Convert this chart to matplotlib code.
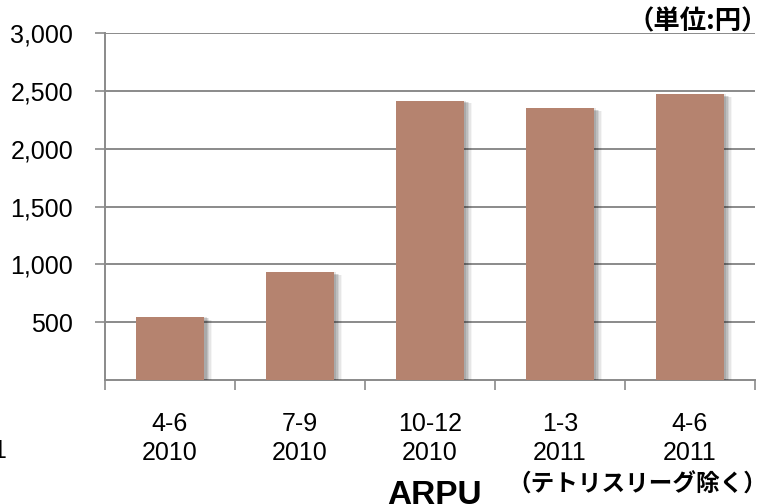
import matplotlib
matplotlib.use("Agg")
import matplotlib.pyplot as plt
import matplotlib.patheffects as pe

plt.rcParams['font.family'] = ['Liberation Sans', 'Noto Sans CJK JP', 'DejaVu Sans']

quarters = ["4-6\n2010", "7-9\n2010", "10-12\n2010", "1-3\n2011", "4-6\n2011"]
arpu = [545, 930, 2415, 2350, 2470]
y_ticks = [500, 1000, 1500, 2000, 2500, 3000]
y_tick_labels = ["500", "1,000", "1,500", "2,000", "2,500", "3,000"]

bar_color = "#b5836f"
grid_color = "#8a8a8a"
jp_font = ["Noto Sans CJK JP", "DejaVu Sans"]

fig = plt.figure(figsize=(7.69, 5.04), dpi=100)
ax = fig.add_axes([0.1365, 0.246, 0.845, 0.6885])

x = list(range(len(quarters)))
# soft drop shadow to the right of each bar
shadow = [
    pe.SimplePatchShadow(offset=(6, -2), shadow_rgbFace="k", alpha=0.04),
    pe.SimplePatchShadow(offset=(5, -2), shadow_rgbFace="k", alpha=0.06),
    pe.SimplePatchShadow(offset=(4, -1), shadow_rgbFace="k", alpha=0.08),
    pe.SimplePatchShadow(offset=(3, -1), shadow_rgbFace="k", alpha=0.10),
    pe.SimplePatchShadow(offset=(2, 0), shadow_rgbFace="k", alpha=0.10),
    pe.Normal(),
]
bars = ax.bar(x, arpu, width=0.52, color=bar_color, zorder=3)
for b in bars:
    b.set_path_effects(shadow)

ax.set_xlim(-0.5, len(quarters) - 0.5)
ax.set_ylim(0, 3000)
ax.set_yticks(y_ticks)
ax.set_yticklabels(y_tick_labels)
ax.yaxis.grid(True, color=grid_color, linewidth=1.4, zorder=0)
ax.set_axisbelow(True)

ax.set_xticks(x)
ax.set_xticklabels(quarters, linespacing=1.25)
ax.set_xticks([i - 0.5 for i in range(len(quarters) + 1)], minor=True)
ax.tick_params(axis="x", which="major", length=0, pad=23, labelsize=18)
ax.tick_params(axis="x", which="minor", length=7, width=1.2, color=grid_color, direction="out")
ax.tick_params(axis="y", length=7, width=1.2, color=grid_color, labelsize=18, pad=16)

for side in ("top", "right"):
    ax.spines[side].set_visible(False)
for side in ("left", "bottom"):
    ax.spines[side].set_color(grid_color)
    ax.spines[side].set_linewidth(1.4)

fig.text(0.999, 0.956, "（単位:円）", ha="right", va="center", fontsize=19,
         fontweight="bold", family=jp_font)
fig.text(0.5645, 0.0, "ARPU", ha="center", va="baseline", fontsize=24,
         fontweight="bold")
fig.text(0.998, 0.038, "（テトリスリーグ除く）", ha="right", va="center", fontsize=17,
         fontweight="bold", family=jp_font)
fig.text(0.008, 0.105, "1", ha="right", va="center", fontsize=18)

fig.savefig("out.png", dpi=100)
